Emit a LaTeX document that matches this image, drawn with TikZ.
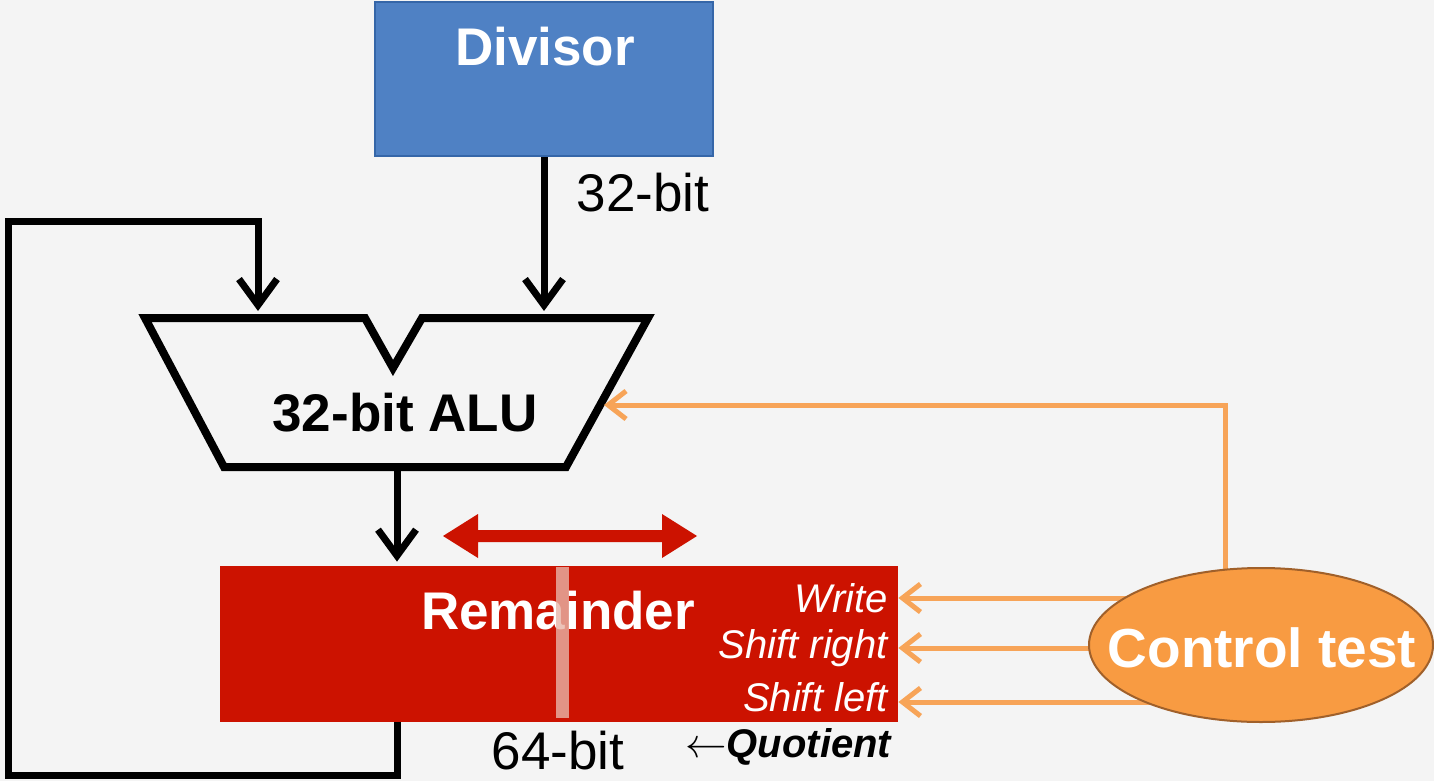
\documentclass[tikz,border=0pt]{standalone}
\usepackage{fontspec}
\setmainfont{Liberation Sans}
\usetikzlibrary{arrows.meta,shapes.geometric}
\definecolor{bg}{HTML}{F4F4F4}
\definecolor{divblue}{HTML}{4F81C4}
\definecolor{divborder}{HTML}{3566A8}
\definecolor{remred}{HTML}{CC1200}
\definecolor{ctlorange}{HTML}{F89B42}
\definecolor{ctlborder}{HTML}{A0602A}
\definecolor{lineorange}{HTML}{F7A458}
\definecolor{barpink}{HTML}{E8B5A8}
\begin{document}
\begin{tikzpicture}[x=0.5pt,y=-0.5pt,
  bigbold/.style={font=\fontsize{26.5}{30}\selectfont\bfseries},
  bigreg/.style={font=\fontsize{26.5}{30}\selectfont},
  ctlitalic/.style={font=\fontsize{20}{24}\selectfont\itshape, text=white, anchor=east, inner sep=0pt},
  blk/.style={draw=black, line width=3.5pt, line join=miter, -{Straight Barb[length=13pt,width=19pt]}},
  org/.style={draw=lineorange, line width=2.5pt, line join=miter, -{Straight Barb[length=9pt,width=14pt]}},
  orgline/.style={draw=lineorange, line width=2.5pt, line join=miter}]
\fill[bg] (0,0) rectangle (1434,781);
\useasboundingbox (0,0) rectangle (1434,781);

% Divisor
\node[draw=divborder, fill=divblue, line width=1pt, minimum width=169pt, minimum height=77pt, inner sep=0pt] (div) at (544,79) {};
\node[bigbold, text=white] (divt) at (545,47) {Divisor};

% ALU
\coordinate (aluin1) at (258,311);
\coordinate (aluin2) at (544,311);
\coordinate (aluout) at (397,467);
\coordinate (aluctl) at (604,405);
\draw[line width=4pt, line join=miter] (145,318) -- (365,318) -- (393,368) -- (422,318) -- (648,318) -- (566,467) -- (224,467) -- cycle;
\node[bigbold] (alut) at (405,413) {32-bit ALU};

% Divisor -> ALU
\draw[blk] (div.south) -- (div.south |- aluin2);
\node[bigreg] (w32) at (643,193) {32-bit};

% Remainder
\node[fill=remred, minimum width=339pt, minimum height=78pt, inner sep=0pt] (rem) at (559,644) {};
\node[bigbold, text=white] (remt) at (558,611) {Remainder};
\fill[barpink, fill opacity=0.8] (556,567) rectangle (569,718);
\node[ctlitalic] (lw) at (888,598) {Write};
\node[ctlitalic] (lsr) at (888,648) {Shift right};
\node[ctlitalic] (lsl) at (888,697) {Shift left};

% ALU -> Remainder
\draw[blk] (aluout) -- ([yshift=2pt]aluout |- rem.north);

% loop back
\coordinate (lb) at (8,775);
\coordinate (lt) at (8,221);
\draw[blk] (aluout |- rem.south) -- (aluout |- lb) -- (lb) -- (lt) -- (lt -| aluin1) -- (aluin1);

% shift double arrow
\fill[remred] (443,536) -- (478,514) -- (478,530) -- (662,530) -- (662,514) -- (697,536) -- (662,558) -- (662,542) -- (478,542) -- (478,558) -- cycle;

% bottom labels
\node[bigreg] (w64) at (558,751) {64-bit};
\node[font=\fontsize{20}{23}\selectfont, anchor=east, inner sep=0pt] (quot) at (893,747) {$\leftarrow$\textbf{\textit{Quotient}}};

% orange control lines
\coordinate (tap) at (1225,405);
\coordinate (y1) at (1200,598);
\coordinate (y2) at (1200,648);
\coordinate (y3) at (1200,702);
\coordinate (ctlc) at (1261,645);
\draw[org] (tap |- ctlc) -- (tap) -- (aluctl);
\draw[org] (y1) -- (y1 -| rem.east);
\draw[org] (y2) -- (y2 -| rem.east);
\draw[org] (y3) -- (y3 -| rem.east);

% Control test
\node[ellipse, draw=ctlborder, fill=ctlorange, line width=1pt, minimum width=172pt, minimum height=77pt, inner sep=0pt] (ctl) at (ctlc) {};
\node[text=white, font=\fontsize{27.5}{31}\selectfont\bfseries] (ctlt) at (1262,648) {Control test};
\end{tikzpicture}
\end{document}
